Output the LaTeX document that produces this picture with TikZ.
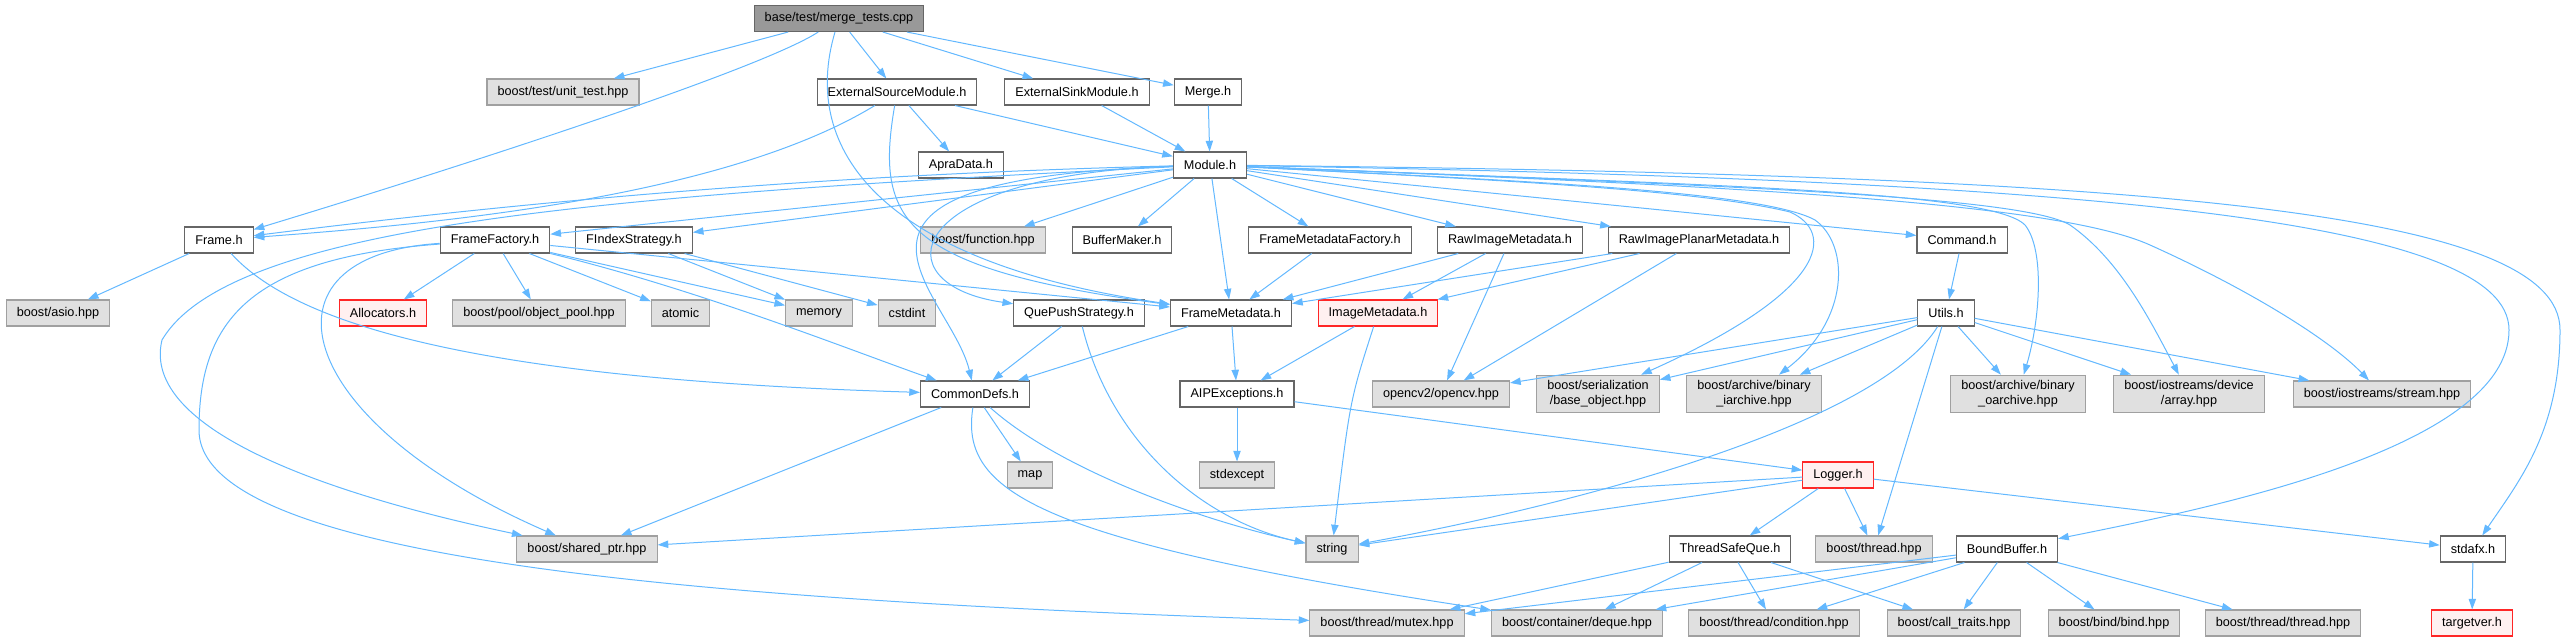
\documentclass[tikz,border=0pt]{standalone}
\usepackage{fontspec}
\setmainfont{Liberation Sans}
\usetikzlibrary{arrows.meta}
\definecolor{azulAresta}{RGB}{99,184,255}
\definecolor{cinzaBorda}{RGB}{102,102,102}
\definecolor{cinzaClaro}{RGB}{160,160,160}
\definecolor{cinzaFundo}{RGB}{224,224,224}
\definecolor{cinzaRaiz}{RGB}{153,153,153}
\definecolor{rosaFundo}{RGB}{255,240,240}

\begin{document}
\begin{tikzpicture}[
    x=0.75pt, y=-0.75pt,
    every node/.style={font=\fontsize{9.5}{11.3}\selectfont},
    filebox/.style={draw=cinzaBorda, line width=0.8pt, fill=white, minimum height=19.5pt, inner xsep=7.9pt, inner ysep=4pt, align=center},
    sysbox/.style={filebox, draw=cinzaClaro, fill=cinzaFundo},
    redbox/.style={filebox, draw=red!85, fill=rosaFundo},
    rootbox/.style={filebox, fill=cinzaRaiz},
    dep/.style={draw=azulAresta, line width=0.75pt, -{Triangle[length=8pt, width=5.5pt]}}
]
    \useasboundingbox (0,0) rectangle (2566,641);

    % Arquivo de teste (raiz)
    \node[rootbox] (root) at (839,18.5) {base/test/merge\_tests.cpp};

    % Nivel 1
    \node[sysbox] (utest) at (563,92) {boost/test/unit\_test.hpp};
    \node[filebox] (extsrc) at (897,92) {ExternalSourceModule.h};
    \node[filebox] (extsink) at (1077,92) {ExternalSinkModule.h};
    \node[filebox] (merge) at (1208,92) {Merge.h};

    % Nivel 2
    \node[filebox] (apra) at (961,165) {ApraData.h};
    \node[filebox] (module) at (1210,165) {Module.h};

    % Nivel 3
    \node[filebox] (frame) at (219,240) {Frame.h};
    \node[filebox] (ffactory) at (495,240) {FrameFactory.h};
    \node[filebox] (findex) at (634,240) {FIndexStrategy.h};
    \node[sysbox] (bfunc) at (983,240) {boost/function.hpp};
    \node[filebox] (bufmaker) at (1122,240) {BufferMaker.h};
    \node[filebox] (fmfactory) at (1330,240) {FrameMetadataFactory.h};
    \node[filebox] (rawimg) at (1510,240) {RawImageMetadata.h};
    \node[filebox] (rawplanar) at (1699,240) {RawImagePlanarMetadata.h};
    \node[filebox] (command) at (1962,240) {Command.h};

    % Nivel 4
    \node[sysbox] (asio) at (58,313) {boost/asio.hpp};
    \node[redbox] (alloc) at (383,313) {Allocators.h};
    \node[sysbox] (objpool) at (539,313) {boost/pool/object\_pool.hpp};
    \node[sysbox] (atomic) at (680.5,313) {atomic};
    \node[sysbox] (memory) at (819,313) {memory};
    \node[sysbox] (cstdint) at (907,313) {cstdint};
    \node[filebox] (quepush) at (1079,313) {QuePushStrategy.h};
    \node[filebox] (fmeta) at (1231,313) {FrameMetadata.h};
    \node[redbox] (imgmeta) at (1378,313) {ImageMetadata.h};
    \node[filebox] (utils) at (1946,313) {Utils.h};

    % Nivel 5
    \node[filebox] (commondefs) at (975,394) {CommonDefs.h};
    \node[filebox] (aipexc) at (1237,394) {AIPExceptions.h};
    \node[sysbox] (opencv) at (1441,394) {opencv2/opencv.hpp};
    \node[sysbox] (baseobj) at (1598,394) {boost/serialization\\/base\_object.hpp};
    \node[sysbox] (iarch) at (1754,394) {boost/archive/binary\\\_iarchive.hpp};
    \node[sysbox] (oarch) at (2018,394) {boost/archive/binary\\\_oarchive.hpp};
    \node[sysbox] (devarray) at (2189,394) {boost/iostreams/device\\/array.hpp};
    \node[sysbox] (stream) at (2382,394) {boost/iostreams/stream.hpp};

    % Nivel 6
    \node[sysbox] (map) at (1030,475) {map};
    \node[sysbox] (stdexcept) at (1237,475) {stdexcept};
    \node[redbox] (logger) at (1838,475) {Logger.h};

    % Nivel 7
    \node[sysbox] (sharedptr) at (587,549) {boost/shared\_ptr.hpp};
    \node[sysbox] (string) at (1332,549) {string};
    \node[filebox] (tsq) at (1730,549) {ThreadSafeQue.h};
    \node[sysbox] (bthread) at (1874,549) {boost/thread.hpp};
    \node[filebox] (boundbuf) at (2007,549) {BoundBuffer.h};
    \node[filebox] (stdafx) at (2473,549) {stdafx.h};

    % Nivel 8
    \node[sysbox] (mutex) at (1387,623) {boost/thread/mutex.hpp};
    \node[sysbox] (deque) at (1577,623) {boost/container/deque.hpp};
    \node[sysbox] (condition) at (1774,623) {boost/thread/condition.hpp};
    \node[sysbox] (calltraits) at (1954,623) {boost/call\_traits.hpp};
    \node[sysbox] (bind) at (2114,623) {boost/bind/bind.hpp};
    \node[sysbox] (tthread) at (2283,623) {boost/thread/thread.hpp};
    \node[redbox] (targetver) at (2472,623) {targetver.h};

    % Dependencias da raiz
    \draw[dep] (root) -- (utest);
    \draw[dep] (root) .. controls (760,70) and (450,170) .. (frame);
    \draw[dep] (root) .. controls (800,150) and (880,262) .. (fmeta);
    \draw[dep] (root) -- (extsrc);
    \draw[dep] (root) -- (extsink);
    \draw[dep] (root) -- (merge);

    % ExternalSourceModule, ExternalSinkModule, Merge
    \draw[dep] (extsrc) .. controls (720,200) and (420,225) .. (frame);
    \draw[dep] (extsrc) .. controls (875,220) and (900,268) .. (fmeta);
    \draw[dep] (extsrc) -- (apra);
    \draw[dep] (extsrc) -- (module);
    \draw[dep] (extsink) -- (module);
    \draw[dep] (merge) -- (module);

    % Module.h
    \draw[dep] (module) .. controls (800,175) and (500,205) .. (frame);
    \draw[dep] (module) -- (ffactory);
    \draw[dep] (module) -- (findex);
    \draw[dep] (module) .. controls (600,195) and (230,225) .. (162,340) .. controls (140,430) and (330,495) .. (sharedptr);
    \draw[dep] (module) -- (bfunc);
    \draw[dep] (module) -- (bufmaker);
    \draw[dep] (module) -- (fmfactory);
    \draw[dep] (module) -- (fmeta);
    \draw[dep] (module) -- (rawimg);
    \draw[dep] (module) -- (rawplanar);
    \draw[dep] (module) -- (command);
    \draw[dep] (module) .. controls (900,175) and (880,285) .. (quepush);
    \draw[dep] (module) .. controls (780,180) and (950,290) .. (commondefs);
    \draw[dep] (module) .. controls (1500,180) and (1700,190) .. (1790,212) .. controls (1835,232) and (1830,290) .. (baseobj);
    \draw[dep] (module) .. controls (1500,180) and (1760,190) .. (1815,220) .. controls (1850,245) and (1850,320) .. (iarch);
    \draw[dep] (module) .. controls (1700,185) and (1990,190) .. (2025,225) .. controls (2045,250) and (2040,320) .. (oarch);
    \draw[dep] (module) .. controls (1700,185) and (2020,195) .. (2070,225) .. controls (2120,260) and (2150,320) .. (devarray);
    \draw[dep] (module) .. controls (1700,185) and (2050,200) .. (2150,245) .. controls (2250,290) and (2330,340) .. (stream);
    \draw[dep] (module) .. controls (2100,180) and (2509,220) .. (2509,330) .. controls (2509,450) and (2200,510) .. (boundbuf);
    \draw[dep] (module) .. controls (2150,175) and (2560,210) .. (2560,330) .. controls (2560,430) and (2520,480) .. (stdafx);

    % Frame.h e FrameFactory.h
    \draw[dep] (frame) -- (asio);
    \draw[dep] (frame) .. controls (300,330) and (500,380) .. (commondefs);
    \draw[dep] (ffactory) -- (alloc);
    \draw[dep] (ffactory) -- (objpool);
    \draw[dep] (ffactory) -- (atomic);
    \draw[dep] (ffactory) -- (memory);
    \draw[dep] (ffactory) -- (fmeta);
    \draw[dep] (ffactory) .. controls (700,290) and (850,350) .. (commondefs);
    \draw[dep] (ffactory) .. controls (250,255) and (290,420) .. (sharedptr);
    \draw[dep] (ffactory) .. controls (250,258) and (199,320) .. (199,430) .. controls (199,560) and (700,600) .. (mutex);
    \draw[dep] (findex) -- (memory);
    \draw[dep] (findex) -- (cstdint);

    % Metadados
    \draw[dep] (quepush) -- (commondefs);
    \draw[dep] (quepush) .. controls (1110,440) and (1200,520) .. (string);
    \draw[dep] (fmeta) -- (commondefs);
    \draw[dep] (fmeta) -- (aipexc);
    \draw[dep] (imgmeta) -- (aipexc);
    \draw[dep] (imgmeta) .. controls (1350,400) .. (string);
    \draw[dep] (rawimg) -- (fmeta);
    \draw[dep] (rawimg) -- (imgmeta);
    \draw[dep] (rawimg) -- (opencv);
    \draw[dep] (rawplanar) -- (fmeta);
    \draw[dep] (rawplanar) -- (imgmeta);
    \draw[dep] (rawplanar) -- (opencv);
    \draw[dep] (fmfactory) -- (fmeta);

    % CommonDefs.h e AIPExceptions.h
    \draw[dep] (commondefs) -- (sharedptr);
    \draw[dep] (commondefs) -- (map);
    \draw[dep] (commondefs) .. controls (1060,470) and (1200,520) .. (string);
    \draw[dep] (commondefs) .. controls (960,490) and (1030,540) .. (deque);
    \draw[dep] (aipexc) -- (stdexcept);
    \draw[dep] (aipexc) -- (logger);

    % Logger.h
    \draw[dep] (logger) -- (sharedptr);
    \draw[dep] (logger) -- (string);
    \draw[dep] (logger) -- (bthread);
    \draw[dep] (logger) -- (tsq);
    \draw[dep] (logger) -- (stdafx);

    % Command.h e Utils.h
    \draw[dep] (command) -- (utils);
    \draw[dep] (utils) -- (opencv);
    \draw[dep] (utils) -- (baseobj);
    \draw[dep] (utils) -- (iarch);
    \draw[dep] (utils) -- (oarch);
    \draw[dep] (utils) -- (devarray);
    \draw[dep] (utils) -- (stream);
    \draw[dep] (utils) .. controls (1880,420) and (1600,500) .. (string);
    \draw[dep] (utils) -- (bthread);

    % ThreadSafeQue.h, BoundBuffer.h, stdafx.h
    \draw[dep] (tsq) -- (mutex);
    \draw[dep] (tsq) -- (deque);
    \draw[dep] (tsq) -- (condition);
    \draw[dep] (tsq) -- (calltraits);
    \draw[dep] (boundbuf) -- (mutex);
    \draw[dep] (boundbuf) -- (deque);
    \draw[dep] (boundbuf) -- (condition);
    \draw[dep] (boundbuf) -- (calltraits);
    \draw[dep] (boundbuf) -- (bind);
    \draw[dep] (boundbuf) -- (tthread);
    \draw[dep] (stdafx) -- (targetver);

\end{tikzpicture}
\end{document}
